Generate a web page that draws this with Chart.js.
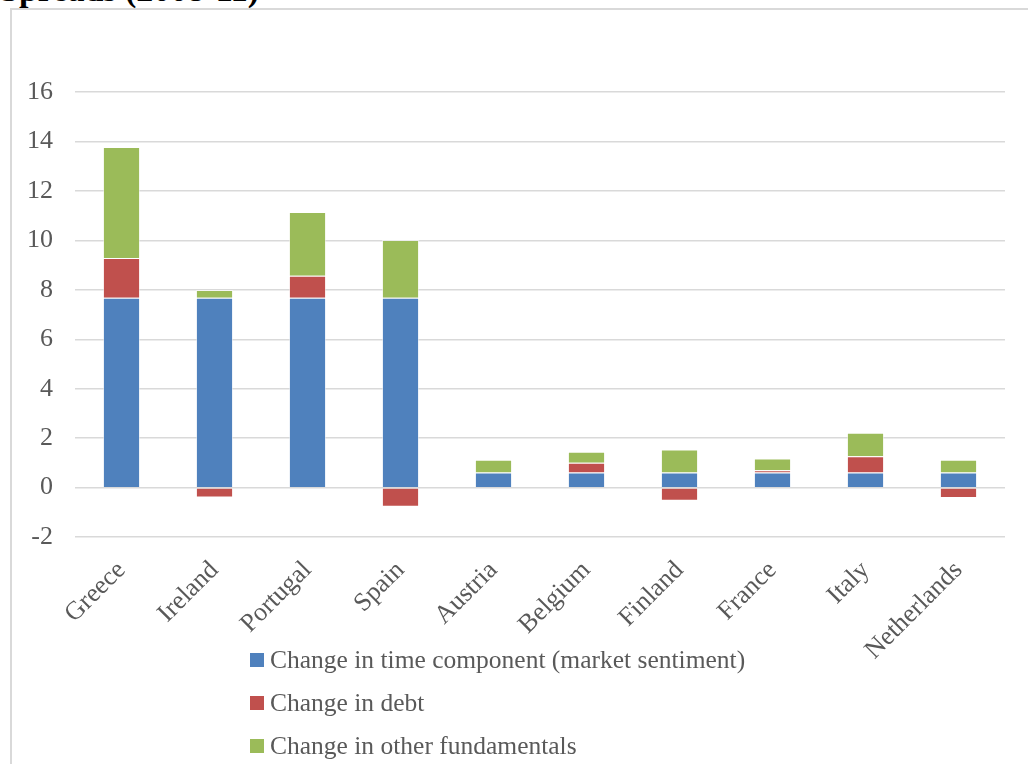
<!DOCTYPE html>
<html>
<head>
<meta charset="utf-8">
<script src="https://cdn.jsdelivr.net/npm/chart.js@4/dist/chart.umd.min.js"></script>
<style>
  body { margin: 0; background: #fff; width: 1028px; height: 764px; overflow: hidden; position: relative; }
  #titulo { position: absolute; left: 0; top: -27px; font: bold 34px/34px "Liberation Serif", serif; color: #000; white-space: nowrap; }
  #moldura { position: absolute; left: 10px; top: 8px; width: 1020px; height: 770px; border-left: 2px solid #d9d9d9; border-top: 2px solid #d9d9d9; box-sizing: border-box; }
  #caixa { position: absolute; left: 0; top: 0; width: 1028px; height: 764px; }
  #legenda { position: absolute; left: 250px; top: 645px; font: 25.5px/30px "Liberation Serif", serif; color: #595959; }
  #legenda div { height: 43px; display: flex; align-items: flex-start; }
  #legenda span.q { display: inline-block; width: 14px; height: 14px; margin: 8px 6px 0 0; }
</style>
</head>
<body>
<div id="titulo">Spreads (2008-11)</div>
<div id="moldura"></div>
<div id="caixa"><canvas id="meuGrafico"></canvas></div>
<div id="legenda"></div>
<script>
const paises = ["Greece", "Ireland", "Portugal", "Spain", "Austria", "Belgium", "Finland", "France", "Italy", "Netherlands"];
const tempo = [7.68, 7.68, 7.68, 7.68, 0.61, 0.61, 0.61, 0.61, 0.61, 0.61];
const divida = [1.61, -0.4, 0.89, -0.77, 0, 0.4, -0.53, 0.09, 0.66, -0.42];
const outros = [4.49, 0.31, 2.58, 2.34, 0.52, 0.44, 0.93, 0.48, 0.95, 0.52];
const nomesSeries = ["Change in time component (market sentiment)", "Change in debt", "Change in other fundamentals"];
const cores = ["#4f81bd", "#c0504d", "#9bbb59"];

const ctx = document.getElementById('meuGrafico').getContext('2d');
const series = [tempo, divida, outros];
const datasets = series.map((d, i) => ({
  label: nomesSeries[i],
  data: d,
  backgroundColor: cores[i],
  borderColor: 'rgba(255,255,255,0.5)',
  borderWidth: 1,
  barPercentage: 0.4,
  categoryPercentage: 1
}));

const grafico = new Chart(ctx, {
  type: 'bar',
  data: { labels: paises, datasets: datasets },
  options: {
    responsive: true,
    maintainAspectRatio: false,
    animation: false,
    layout: { padding: { left: 5, right: 23, top: 92, bottom: 88 } },
    plugins: { legend: { display: false }, tooltip: { enabled: false } },
    scales: {
      x: {
        stacked: true,
        grid: { display: false },
        border: { display: false },
        ticks: { color: '#595959', font: { family: 'Liberation Serif', size: 26 }, maxRotation: 45, minRotation: 45, padding: 10 }
      },
      y: {
        stacked: true,
        min: -2,
        max: 16,
        ticks: { stepSize: 2, color: '#595959', font: { family: 'Liberation Serif', size: 26 }, padding: 22 },
        grid: { color: '#d9d9d9', lineWidth: 1.5, drawTicks: false },
        border: { display: false }
      }
    }
  }
});

const leg = document.getElementById('legenda');
nomesSeries.forEach((n, i) => {
  const linha = document.createElement('div');
  linha.innerHTML = '<span class="q" style="background:' + cores[i] + '"></span>' + n;
  leg.appendChild(linha);
});
</script>
</body>
</html>
